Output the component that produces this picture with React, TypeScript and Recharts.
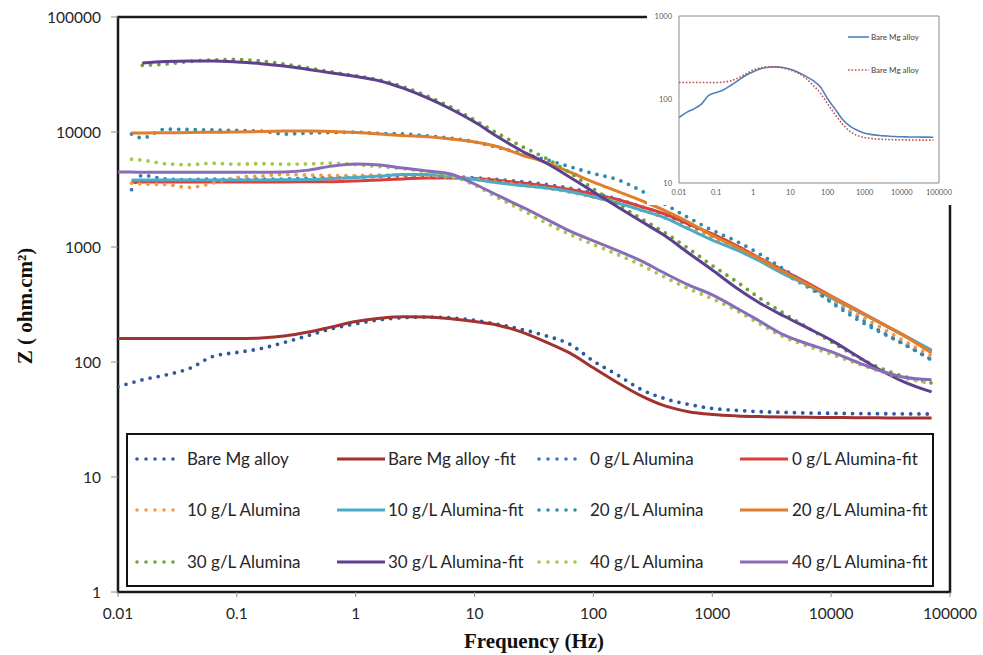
import React from "react";
import { LineChart, Line, XAxis, YAxis, ReferenceArea } from "recharts";

// frequency grid (Hz)
const FREQ = [
  0.01, 0.013, 0.016, 0.025, 0.04, 0.063, 0.1, 0.16, 0.25, 0.4, 0.63, 1, 1.6, 2.5, 4, 6.3, 10, 16,
  25, 40, 63, 100, 160, 250, 400, 630, 1000, 1600, 2500, 4000, 6300, 10000, 16000, 25000, 40000,
  70000,
];

// |Z| in ohm.cm2, one value per FREQ entry (null = no point)
const BARE_DATA = [
  61, 66, 70, 77, 88, 112, 121, 131, 148, 170, 195, 215, 233, 243, 246, 242, 230, 212, 192, 169,
  143, 102, 77, 58, 48, 42.8, 39.5, 38, 37, 36.5, 36, 35.8, 35.6, 35.5, 35.4, 35.3,
];
const BARE_FIT = [
  160, 160, 160, 160, 160, 160, 160, 162, 168, 182, 202, 225, 240, 247, 246, 238, 225, 208, 182, 149,
  120, 89, 66, 51, 41.5, 37, 35, 34, 33.5, 33.2, 33, 32.9, 32.8, 32.7, 32.6, 32.6,
];
const DATA_0 = [
  null, 3150, 4200, 3900, 3850, 3900, 3850, 3900, 3900, 3950, 4000, 4050, 4100, 4150, 4150, 4100,
  4000, 3850, 3700, 3500, 3250, 2950, 2600, 2250, 1900, 1550, 1250, 1000, 780, 590, 450, 340, 255,
  190, 145, 105,
];
const FIT_0 = [
  null, 3670, 3680, 3680, 3680, 3680, 3680, 3680, 3680, 3690, 3700, 3750, 3830, 3910, 3980, 3990,
  3940, 3790, 3600, 3390, 3160, 2890, 2590, 2250, 1935, 1585, 1300, 1030, 802, 625, 487, 375, 289,
  225, 173, 125,
];
const DATA_10 = [
  null, 3600, 3530, 3500, 3300, 3600, 4020, 4140, 4270, 4220, 4180, 4180, 4220, 4220, 4180, 4020,
  3900, 3670, 3450, 3260, 3000, 2720, 2415, 2100, 1790, 1460, 1200, 980, 790, 606, 460, 350, 265,
  205, 155, 113,
];
const FIT_10 = [
  null, 3830, 3830, 3830, 3830, 3830, 3830, 3830, 3840, 3860, 3940, 4020, 4140, 4270, 4270, 4100,
  3865, 3600, 3430, 3260, 3040, 2720, 2415, 2100, 1790, 1435, 1150, 942, 756, 582, 468, 360, 283,
  223, 172, 127,
];
const DATA_20 = [
  null, 9610, 8870, 10600, 10500, 10400, 10300, 10200, 9600, 9800, 9900, 9950, 9700, 9610, 9260,
  8850, 8200, 7300, 6500, 5750, 5000, 4350, 3850, 3100, 2350, 1800, 1400, 1120, 870, 640, 470, 330,
  240, 185, 145, 104,
];
const FIT_20 = [
  null, 9800, 9800, 9850, 9900, 9950, 10000, 10100, 10200, 10200, 10100, 9900, 9610, 9300, 9100,
  8700, 8190, 7410, 6310, 5430, 4490, 3670, 3040, 2540, 2075, 1650, 1260, 1000, 787, 606, 477, 371,
  286, 223, 172, 120,
];
const DATA_30 = [
  null, null, 38000, 39000, 41000, 42300, 42700, 41400, 39000, 36000, 33300, 30800, 28300, 24800,
  20500, 16500, 12700, 9600, 7500, 5900, 4450, 3200, 2350, 1780, 1330, 970, 690, 500, 360, 265,
  200, 150, 113, 90, 75.5, 65.6,
];
const FIT_30 = [
  null, null, 39800, 41000, 41500, 41500, 40700, 39300, 37500, 35000, 32600, 30400, 27800, 24100,
  19800, 15850, 12200, 8960, 6840, 5370, 4060, 3010, 2230, 1680, 1250, 887, 631, 440, 326, 251,
  198, 155, 115, 87, 68, 55,
];
const DATA_40 = [
  null, 5800, 5700, 5300, 5200, 5350, 5250, 5300, 5250, 5280, 5350, 5200, 5000, 4800, 4500, 4150,
  3450, 2650, 2100, 1620, 1290, 1050, 860, 700, 545, 435, 355, 280, 215, 165, 138, 117, 98, 84, 73,
  65,
];
const FIT_40 = [
  4490, 4480, 4470, 4460, 4460, 4460, 4460, 4470, 4490, 4660, 5050, 5270, 5160, 4860, 4580, 4310,
  3530, 2780, 2230, 1750, 1380, 1130, 930, 760, 590, 468, 383, 295, 227, 172, 144, 123, 101, 85, 74,
  70,
];

const X_TICKS = [0.01, 0.1, 1, 10, 100, 1000, 10000, 100000];
const Y_TICKS = [1, 10, 100, 1000, 10000, 100000];
const INSET_Y_TICKS = [10, 100, 1000];

const SERIES = [
  { key: "bare", name: "Bare Mg alloy", values: BARE_DATA, color: "#2E5B9F", dotted: true },
  { key: "bareFit", name: "Bare Mg alloy -fit", values: BARE_FIT, color: "#A0322F", dotted: false },
  { key: "d0", name: "0 g/L Alumina", values: DATA_0, color: "#3A78C0", dotted: true },
  { key: "f0", name: "0 g/L Alumina-fit", values: FIT_0, color: "#D93F3C", dotted: false },
  { key: "d10", name: "10 g/L Alumina", values: DATA_10, color: "#F79646", dotted: true },
  { key: "f10", name: "10 g/L Alumina-fit", values: FIT_10, color: "#4BACC6", dotted: false },
  { key: "d20", name: "20 g/L Alumina", values: DATA_20, color: "#2C8DAF", dotted: true },
  { key: "f20", name: "20 g/L Alumina-fit", values: FIT_20, color: "#E27D2A", dotted: false },
  { key: "d30", name: "30 g/L Alumina", values: DATA_30, color: "#6EA23A", dotted: true },
  { key: "f30", name: "30 g/L Alumina-fit", values: FIT_30, color: "#5F3F8F", dotted: false },
  { key: "d40", name: "40 g/L Alumina", values: DATA_40, color: "#A5C94C", dotted: true },
  { key: "f40", name: "40 g/L Alumina-fit", values: FIT_40, color: "#8A6BB8", dotted: false },
];

const rows = FREQ.map((f, i) => {
  const row: Record<string, number | null> = { f };
  SERIES.forEach((s) => {
    row[s.key] = s.values[i];
  });
  return row;
});

const insetRows = FREQ.map((f, i) => ({ f, data: BARE_DATA[i], fit: BARE_FIT[i] }));

const SANS = "Lato, 'Liberation Sans', sans-serif";
const SERIF = "'Liberation Serif', 'DejaVu Serif', serif";

// legend grid (page px)
const LEG_ROWS = [459, 510, 562];
const LEG_MARK_X = [135, 337, 537, 740];
const LEG_TEXT_X = [187, 388, 590, 792];

function LegendMark({ color, dotted }: { color: string; dotted: boolean }) {
  return (
    <svg width={50} height={10} style={{ display: "block" }}>
      {dotted ? (
        <line x1={2} y1={5} x2={47} y2={5} stroke={color} strokeWidth={3.6}
          strokeDasharray="0 9" strokeLinecap="round" />
      ) : (
        <line x1={0} y1={5} x2={48} y2={5} stroke={color} strokeWidth={3} />
      )}
    </svg>
  );
}

function Inset() {
  return (
    <div style={{ position: "absolute", left: 647, top: 0, width: 336, height: 205, background: "#fff" }}>
      <LineChart width={336} height={205} data={insetRows}
        margin={{ top: 16, right: 44, bottom: 0, left: 0 }}>
        <XAxis type="number" dataKey="f" scale="log" domain={[0.01, 100000]} ticks={X_TICKS}
          interval={0} allowDataOverflow axisLine={false} tickLine={false} tickSize={0}
          tickMargin={7} height={22}
          tick={{ fontSize: 7.5, fill: "#595959", fontFamily: SANS }} />
        <YAxis type="number" scale="log" domain={[10, 1000]} ticks={INSET_Y_TICKS} interval={0}
          allowDataOverflow axisLine={false} tickLine={false} tickSize={0} tickMargin={7} width={32}
          tick={{ fontSize: 7.5, fill: "#595959", fontFamily: SANS }} />
        <ReferenceArea x1={0.01} x2={100000} y1={10} y2={1000} fill="none" stroke="#8a8a8a"
          strokeWidth={1} />
        <Line dataKey="data" type="monotone" stroke="#4F81BD" strokeWidth={1.6} dot={false}
          activeDot={false} isAnimationActive={false} />
        <Line dataKey="fit" type="monotone" stroke="#C0504D" strokeWidth={1.6}
          strokeDasharray="1.6 1.8" dot={false} activeDot={false} isAnimationActive={false} />
      </LineChart>
      <svg style={{ position: "absolute", left: 200, top: 32 }} width={24} height={42}>
        <line x1={1} y1={5} x2={22} y2={5} stroke="#4F81BD" strokeWidth={1.6} />
        <line x1={1} y1={38} x2={22} y2={38} stroke="#C0504D" strokeWidth={1.6}
          strokeDasharray="1.6 1.8" />
      </svg>
      {[37, 70].map((y) => (
        <div key={y} style={{ position: "absolute", left: 224, top: y - 6, fontSize: 8,
          lineHeight: "12px", fontFamily: SANS, color: "#404040", whiteSpace: "nowrap" }}>
          Bare Mg alloy
        </div>
      ))}
    </div>
  );
}

export default function App() {
  return (
    <div style={{ position: "absolute", left: 0, top: 0, width: 983, height: 655,
      background: "#fff", overflow: "hidden" }}>
      <LineChart width={983} height={655} data={rows}
        margin={{ top: 17, right: 33, bottom: 23, left: 0 }}>
        <XAxis type="number" dataKey="f" scale="log" domain={[0.01, 100000]} ticks={X_TICKS}
          interval={0} allowDataOverflow axisLine={false} tickLine={{ stroke: "#8c8c8c" }}
          tickSize={5} tickMargin={11} height={40}
          tick={{ fontSize: 15.5, fill: "#262626", fontFamily: SANS }} />
        <YAxis type="number" scale="log" domain={[1, 100000]} ticks={Y_TICKS} interval={0}
          allowDataOverflow axisLine={false} tickLine={{ stroke: "#8c8c8c" }} tickSize={7}
          tickMargin={10} width={118}
          tick={{ fontSize: 15.5, fill: "#262626", fontFamily: SANS }} />
        <ReferenceArea x1={0.01} x2={100000} y1={1} y2={100000} fill="none" stroke="#1a1a1a"
          strokeWidth={2.5} />
        {SERIES.map((s) =>
          s.dotted ? (
            <Line key={s.key} dataKey={s.key} name={s.name} type="monotone" stroke={s.color}
              strokeWidth={3.8} strokeDasharray="0 8.3" strokeLinecap="round" dot={false}
              activeDot={false} isAnimationActive={false} />
          ) : (
            <Line key={s.key} dataKey={s.key} name={s.name} type="monotone" stroke={s.color}
              strokeWidth={3} dot={false} activeDot={false} isAnimationActive={false} />
          )
        )}
      </LineChart>

      {/* legend */}
      <div style={{ position: "absolute", left: 126, top: 433, width: 808, height: 154,
        border: "2.5px solid #111", boxSizing: "border-box", background: "#fff" }} />
      {SERIES.map((s, i) => {
        const r = Math.floor(i / 4);
        const c = i % 4;
        return (
          <React.Fragment key={s.key}>
            <div style={{ position: "absolute", left: LEG_MARK_X[c], top: LEG_ROWS[r] - 5 }}>
              <LegendMark color={s.color} dotted={s.dotted} />
            </div>
            <div style={{ position: "absolute", left: LEG_TEXT_X[c], top: LEG_ROWS[r] - 12,
              fontSize: 17, lineHeight: "24px", fontFamily: SANS, color: "#262626",
              whiteSpace: "nowrap" }}>
              {s.name}
            </div>
          </React.Fragment>
        );
      })}

      {/* axis titles */}
      <div style={{ position: "absolute", left: 534, top: 641, transform: "translate(-50%, -50%)",
        fontFamily: SERIF, fontWeight: "bold", fontSize: 21, color: "#111", whiteSpace: "nowrap" }}>
        Frequency (Hz)
      </div>
      <div style={{ position: "absolute", left: 25, top: 306,
        transform: "translate(-50%, -50%) rotate(-90deg)", fontFamily: SERIF, fontWeight: "bold",
        fontSize: 21, color: "#111", whiteSpace: "nowrap" }}>
        Z ( ohm.cm²)
      </div>

      <Inset />
    </div>
  );
}
